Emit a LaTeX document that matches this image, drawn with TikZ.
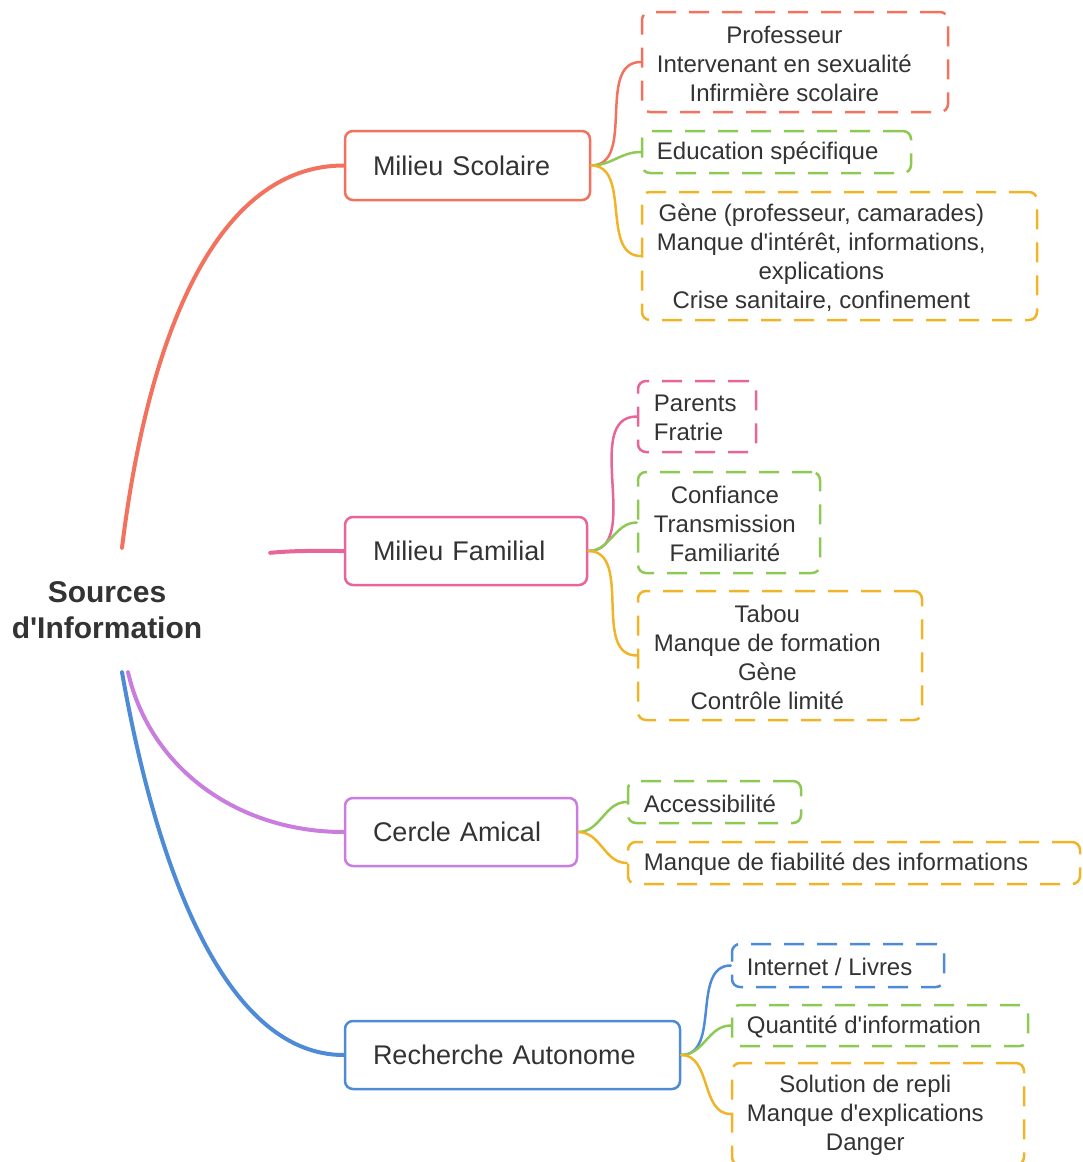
\documentclass[tikz,border=0pt]{standalone}
\usepackage{fontspec}
\setmainfont{Liberation Sans}
\usepackage{xcolor}
\definecolor{colorText}{HTML}{333333}
\definecolor{colorScolaire}{HTML}{F2725E}
\definecolor{colorFamilial}{HTML}{E8659A}
\definecolor{colorCercle}{HTML}{C97DDF}
\definecolor{colorRecherche}{HTML}{4D8BD6}
\definecolor{colorPlus}{HTML}{8DC953}
\definecolor{colorMoins}{HTML}{F0B429}
\usepackage{tikz}
\tikzset{
  rootnode/.style={inner sep=0pt, align=center, text=colorText, font=\fontsize{30}{36}\selectfont\bfseries, minimum width=326pt, minimum height=124pt},
  mainbox/.style={draw, rounded corners=8pt, line width=2.5pt, inner xsep=28pt, inner ysep=0pt, align=left, text=colorText, font=\fontsize{27}{32}\selectfont},
  leafbox/.style={draw, rounded corners=8pt, line width=2.5pt, dash pattern=on 20pt off 13pt, inner sep=0pt},
  leaftext/.style={anchor=west, yshift=-1.5pt, inner sep=0pt, align=center, text=colorText, font=\fontsize{24}{29}\selectfont},
  branch/.style={line width=4pt, line cap=round},
  twig/.style={line width=2.5pt, line cap=round},
}

\begin{document}
\begin{tikzpicture}[x=1pt, y=-1pt]
\useasboundingbox (0,0) rectangle (1083,1162);
% centre
\node[rootnode] (root) at (107,610) {Sources\\d\textquotesingle Information};
% main branches
\node[mainbox, draw=colorScolaire, text width=189pt, minimum height=69pt] (scolaire) at (467.5,165.5) {Milieu Scolaire};
\node[mainbox, draw=colorFamilial, text width=186pt, minimum height=68pt] (familial) at (466,551) {Milieu Familial};
\node[mainbox, draw=colorCercle, text width=176pt, minimum height=68pt] (cercle) at (461,832) {Cercle Amical};
\node[mainbox, draw=colorRecherche, text width=279pt, minimum height=68pt] (recherche) at (512.5,1055) {Recherche Autonome};
% Milieu Scolaire
\node[leafbox, draw=colorScolaire, minimum width=306pt, minimum height=100pt] (profs) at (795,62) {};
\node[leaftext] (profsText) at ([xshift=16pt]profs.west) {Professeur\\Intervenant en sexualité\\Infirmière scolaire};
\node[leafbox, draw=colorPlus, minimum width=269pt, minimum height=42pt] (education) at (776.5,152) {};
\node[leaftext] (educationText) at ([xshift=16pt]education.west) {Education spécifique};
\node[leafbox, draw=colorMoins, minimum width=395pt, minimum height=128pt] (freins) at (839.5,256) {};
\node[leaftext] (freinsText) at ([xshift=16pt]freins.west) {Gène (professeur, camarades)\\Manque d\textquotesingle intérêt, informations,\\explications\\Crise sanitaire, confinement};
% Milieu Familial
\node[leafbox, draw=colorFamilial, minimum width=118pt, minimum height=71pt] (parents) at (697,416.5) {};
\node[leaftext, align=left] (parentsText) at ([xshift=17pt]parents.west) {Parents\\Fratrie};
\node[leafbox, draw=colorPlus, minimum width=182pt, minimum height=101pt] (confiance) at (729,522.5) {};
\node[leaftext] (confianceText) at ([xshift=17pt]confiance.west) {Confiance\\Transmission\\Familiarité};
\node[leafbox, draw=colorMoins, minimum width=284pt, minimum height=129pt] (tabou) at (780,655.5) {};
\node[leaftext] (tabouText) at ([xshift=17pt]tabou.west) {Tabou\\Manque de formation\\Gène\\Contrôle limité};
% Cercle Amical
\node[leafbox, draw=colorPlus, minimum width=173pt, minimum height=42pt] (acces) at (714.5,802) {};
\node[leaftext] (accesText) at ([xshift=17pt]acces.west) {Accessibilité};
\node[leafbox, draw=colorMoins, minimum width=452pt, minimum height=42pt] (fiabilite) at (854,863) {};
\node[leaftext] (fiabiliteText) at ([xshift=17pt]fiabilite.west) {Manque de fiabilité des informations};
% Recherche Autonome
\node[leafbox, draw=colorRecherche, minimum width=212pt, minimum height=43pt] (internet) at (838,965.5) {};
\node[leaftext] (internetText) at ([xshift=16pt]internet.west) {Internet / Livres};
\node[leafbox, draw=colorPlus, minimum width=296pt, minimum height=41pt] (quantite) at (880,1025.5) {};
\node[leaftext] (quantiteText) at ([xshift=16pt]quantite.west) {Quantité d\textquotesingle information};
\node[leafbox, draw=colorMoins, minimum width=292pt, minimum height=102pt] (repli) at (878,1114) {};
\node[leaftext] (repliText) at ([xshift=16pt]repli.west) {Solution de repli\\Manque d\textquotesingle explications\\Danger};
% branches from the centre
\draw[branch, colorScolaire] ([xshift=15pt]root.north) to[out=83, in=180, out distance=220pt, in distance=125pt] (scolaire.west);
\draw[branch, colorFamilial] ([yshift=-5pt]root.north east) to[out=5, in=180] (familial.west);
\draw[branch, colorCercle] ([xshift=21pt]root.south) to[out=-77, in=180, out distance=100pt, in distance=105pt] (cercle.west);
\draw[branch, colorRecherche] ([xshift=15pt]root.south) to[out=-80, in=180, out distance=211pt, in distance=115pt] (recherche.west);
% twigs
\draw[twig, colorScolaire] (scolaire.east) to[out=0, in=180] (profs.west);
\draw[twig, colorPlus] (scolaire.east) to[out=0, in=180] (education.west);
\draw[twig, colorMoins] (scolaire.east) to[out=0, in=180] (freins.west);
\draw[twig, colorFamilial] (familial.east) to[out=0, in=180] (parents.west);
\draw[twig, colorPlus] (familial.east) to[out=0, in=180] (confiance.west);
\draw[twig, colorMoins] (familial.east) to[out=0, in=180] (tabou.west);
\draw[twig, colorPlus] (cercle.east) to[out=0, in=180] (acces.west);
\draw[twig, colorMoins] (cercle.east) to[out=0, in=180] (fiabilite.west);
\draw[twig, colorRecherche] (recherche.east) to[out=0, in=180] (internet.west);
\draw[twig, colorPlus] (recherche.east) to[out=0, in=180] (quantite.west);
\draw[twig, colorMoins] (recherche.east) to[out=0, in=180] (repli.west);
\end{tikzpicture}
\end{document}
